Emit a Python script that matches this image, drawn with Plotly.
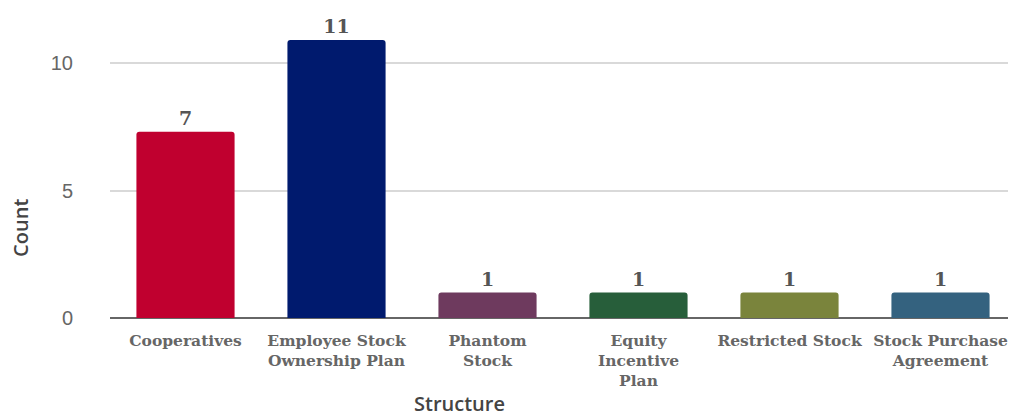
import plotly.graph_objects as go

categories = ["Cooperatives", "Employee Stock<br>Ownership Plan", "Phantom<br>Stock",
              "Equity<br>Incentive<br>Plan", "Restricted Stock", "Stock Purchase<br>Agreement"]
bar_heights = [7.3, 10.9, 1, 1, 1, 1]
value_labels = ["7", "11", "1", "1", "1", "1"]
colors = ["#C0002F", "#001A6E", "#6E3A5E", "#275E3A", "#7A843C", "#34627F"]
y_ticks = [0, 5, 10]

fig = go.Figure(go.Bar(
    x=categories, y=bar_heights, text=value_labels, textposition="outside",
    textfont=dict(family="DejaVu Serif", size=19, color="#555555", weight=600),
    marker=dict(color=colors, cornerradius=3, line=dict(width=0)),
    cliponaxis=False,
))

title_font = dict(family="Open Sans", size=20, color="#444444", weight=600)

fig.update_layout(
    width=1008, height=409,
    margin=dict(l=102, r=0, t=4, b=99, autoexpand=False),
    plot_bgcolor="white", paper_bgcolor="white",
    bargap=0.35, showlegend=False,
    annotations=[
        dict(text="Structure", xref="paper", yref="paper", x=0.386, y=-0.278,
             xanchor="center", yanchor="middle", showarrow=False, font=title_font),
        dict(text="Count", xref="paper", yref="paper", x=-0.0995, y=0.294, textangle=-90,
             xanchor="center", yanchor="middle", showarrow=False, font=title_font),
    ],
)
fig.update_xaxes(
    automargin=False,
    tickfont=dict(family="DejaVu Serif", size=15.5, color="#666666", weight=600),
    showgrid=False, showline=False, ticks="outside", ticklen=8, tickcolor="rgba(0,0,0,0)",
)
fig.update_yaxes(
    automargin=False,
    range=[0, 12], tickvals=y_ticks,
    tickfont=dict(family="Liberation Sans", size=20, color="#666666"),
    showgrid=True, gridcolor="#D9D9D9", gridwidth=2,
    zeroline=True, zerolinecolor="#666666", zerolinewidth=2,
    ticks="outside", ticklen=32, tickcolor="rgba(0,0,0,0)", showline=False,
)

fig.write_html("out.html")
